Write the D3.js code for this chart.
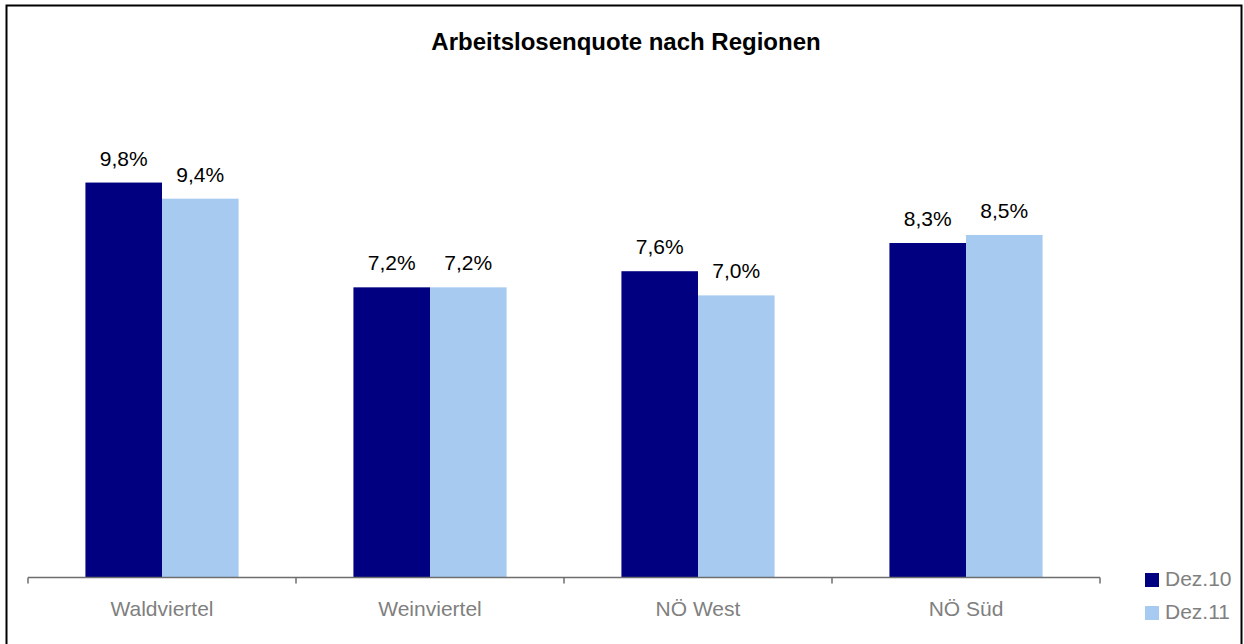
<!DOCTYPE html>
<html>
<head>
<meta charset="utf-8">
<script src="https://cdn.jsdelivr.net/npm/d3@7"></script>
<style>
  body { margin: 0; background: #fff; }
  text { font-family: "Liberation Sans", Arial, sans-serif; }
</style>
</head>
<body>
<div id="picture"></div>
<script>
var regions = ["Waldviertel", "Weinviertel", "NÖ West", "NÖ Süd"];
var seriesNames = ["Dez.10", "Dez.11"];
var dez10 = [9.8, 7.2, 7.6, 8.3];
var dez11 = [9.4, 7.2, 7.0, 8.5];
var colors = ["#000080", "#a6caf0"];

function draw() {
    "use strict";

    var width = 1244, height = 644;
    var baseY = 577.5;

    var svg = d3.select("#picture")
        .append("svg")
        .attr("width", width)
        .attr("height", height);

    // outer frame
    svg.append("rect")
        .attr("x", 6.5).attr("y", 5.5)
        .attr("width", 1235).attr("height", 660)
        .attr("fill", "none")
        .attr("stroke", "#000")
        .attr("stroke-width", 2);

    svg.append("text")
        .attr("x", 626).attr("y", 50)
        .attr("text-anchor", "middle")
        .attr("font-size", 24)
        .attr("font-weight", "bold")
        .text("Arbeitslosenquote nach Regionen");

    var x0 = d3.scaleBand().domain(regions).range([28, 1100]).padding(0);
    var x1 = d3.scaleBand().domain(seriesNames).range([0, x0.bandwidth()])
        .paddingInner(0).paddingOuter(0.75);
    var y = d3.scaleLinear().domain([0, 12]).range([baseY, baseY - 12 * 40.3]);

    var rows = regions.map(function (r, i) {
        return { region: r, vals: [dez10[i], dez11[i]] };
    });

    var groups = svg.selectAll("g.grp")
        .data(rows)
        .enter()
        .append("g")
        .attr("class", "grp")
        .attr("transform", function (d) { return "translate(" + x0(d.region) + ",0)"; });

    groups.selectAll("rect")
        .data(function (d) { return d.vals.map(function (v, j) { return { s: seriesNames[j], v: v, c: colors[j] }; }); })
        .enter()
        .append("rect")
        .attr("x", function (d) { return x1(d.s); })
        .attr("width", x1.bandwidth())
        .attr("y", function (d) { return y(d.v); })
        .attr("height", function (d) { return baseY - y(d.v); })
        .attr("fill", function (d) { return d.c; });

    groups.selectAll("text.val")
        .data(function (d) { return d.vals.map(function (v, j) { return { s: seriesNames[j], v: v }; }); })
        .enter()
        .append("text")
        .attr("class", "val")
        .attr("x", function (d) { return x1(d.s) + x1.bandwidth() / 2; })
        .attr("y", function (d) { return y(d.v) - 17; })
        .attr("text-anchor", "middle")
        .attr("font-size", 21)
        .attr("fill", "#000")
        .text(function (d) { return d3.format(".1f")(d.v).replace(".", ",") + "%"; });

    // x axis with ticks at band edges
    var axis = svg.append("g").attr("transform", "translate(0," + baseY + ")");
    axis.append("line")
        .attr("x1", 28).attr("x2", 1100)
        .attr("stroke", "#6e6e6e").attr("stroke-width", 1.5);
    var edges = regions.map(function (r) { return x0(r); }).concat([x0.range()[1]]);
    axis.selectAll("line.tick")
        .data(edges)
        .enter()
        .append("line")
        .attr("class", "tick")
        .attr("x1", function (d) { return d; }).attr("x2", function (d) { return d; })
        .attr("y1", 0).attr("y2", 6)
        .attr("stroke", "#6e6e6e").attr("stroke-width", 1.5);
    axis.selectAll("text")
        .data(regions)
        .enter()
        .append("text")
        .attr("x", function (d) { return x0(d) + x0.bandwidth() / 2; })
        .attr("y", 38)
        .attr("text-anchor", "middle")
        .attr("font-size", 21)
        .attr("fill", "#808080")
        .text(function (d) { return d; });

    // legend
    var legend = svg.selectAll("g.leg")
        .data(seriesNames)
        .enter()
        .append("g")
        .attr("class", "leg")
        .attr("transform", function (d, i) { return "translate(1145," + (573 + i * 33) + ")"; });
    legend.append("rect")
        .attr("width", 14).attr("height", 14)
        .attr("fill", function (d, i) { return colors[i]; });
    legend.append("text")
        .attr("x", 20).attr("y", 13)
        .attr("font-size", 21)
        .attr("fill", "#808080")
        .text(function (d) { return d; });
}

draw();
</script>
</body>
</html>
